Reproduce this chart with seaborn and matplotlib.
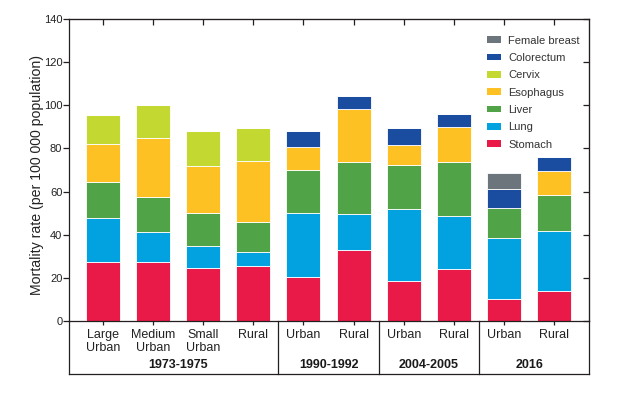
import matplotlib
matplotlib.use("Agg")

import matplotlib.pyplot as plt
import numpy as np
import seaborn as sns
from matplotlib.patches import Patch


OUT_PATH = "out.png"

bar_ids = [f"b{i}" for i in range(10)]
bar_labels = ["Large\nUrban", "Medium\nUrban", "Small\nUrban", "Rural",
              "Urban", "Rural", "Urban", "Rural", "Urban", "Rural"]
periods = ["1973-1975", "1990-1992", "2004-2005", "2016"]
period_sizes = [4, 2, 2, 2]

# mortality rate per 100 000, one value per bar (bottom to top of the stack)
stomach = [27.2, 27.2, 24.4, 25.3, 20.5, 32.7, 18.5, 24.0, 10.4, 14.0]
lung = [20.5, 14.2, 10.6, 6.6, 29.6, 16.9, 33.3, 24.5, 28.0, 27.9]
liver = [16.7, 16.0, 15.1, 14.1, 19.9, 24.3, 20.5, 25.1, 13.9, 16.4]
esophagus = [17.6, 27.4, 21.9, 28.0, 10.7, 24.4, 9.2, 16.5, 0, 11.1]
cervix = [13.5, 15.2, 16.2, 15.3, 0, 0, 0, 0, 0, 0]
colorectum = [0, 0, 0, 0, 7.2, 5.8, 8.1, 5.7, 9.0, 6.5]
female_breast = [0, 0, 0, 0, 0, 0, 0, 0, 7.1, 0]

cancers = ["Stomach", "Lung", "Liver", "Esophagus", "Cervix", "Colorectum", "Female breast"]
series = [stomach, lung, liver, esophagus, cervix, colorectum, female_breast]
colors = ["#E91A47", "#02A2E0", "#50A347", "#FEC124", "#C3D830", "#1A4C9F", "#6C757C"]

LINE_COLOR = "#231f20"


def draw_bars(ax):
    bottom = np.zeros(len(bar_ids))
    for name, vals, color in zip(cancers, series, colors):
        sns.barplot(x=bar_ids, y=vals, order=bar_ids, color=color, saturation=1,
                    width=0.678, bottom=bottom.copy(), edgecolor="white",
                    linewidth=0.6, errorbar=None, ax=ax)
        bottom += np.array(vals)


def draw_table(ax, xlim):
    trans = ax.get_xaxis_transform()
    y_bot = -0.175
    edges = [xlim[0]]
    pos = -0.5
    for n in period_sizes:
        pos += n
        edges.append(pos)
    edges[-1] = xlim[1]
    for x in edges:
        ax.plot([x, x], [0, y_bot], transform=trans, clip_on=False,
                color=LINE_COLOR, lw=0.9, solid_capstyle="projecting")
    ax.plot([xlim[0], xlim[1]], [y_bot, y_bot], transform=trans, clip_on=False,
            color=LINE_COLOR, lw=0.9, solid_capstyle="projecting")

    start = 0
    for name, n in zip(periods, period_sizes):
        center = start + (n - 1) / 2
        ax.text(center, -0.146, name, transform=trans, ha="center", va="center",
                fontsize=9, fontweight="bold", color="#1a1a1a")
        start += n


def main():
    sns.set_style("ticks")
    plt.rcParams["font.family"] = ["Liberation Sans", "DejaVu Sans"]

    fig = plt.figure(figsize=(6.4, 3.97), dpi=100)
    ax = fig.add_axes([0.1083, 0.1914, 0.8120, 0.7607])

    draw_bars(ax)

    xlim = (-0.666, 9.69)
    ax.set_xlim(*xlim)
    ax.set_ylim(0, 140)
    ax.set_yticks(range(0, 141, 20))
    ax.set_xticks(range(len(bar_labels)))
    ax.set_xticklabels(bar_labels, linespacing=1.1)
    ax.set_xlabel("")
    ax.set_ylabel("Mortality rate (per 100 000 population)", fontsize=10.2, color="#222222")
    ax.yaxis.set_label_coords(-0.049, 0.483)

    for side in ["left", "right", "top", "bottom"]:
        ax.spines[side].set_visible(True)
        ax.spines[side].set_color(LINE_COLOR)
        ax.spines[side].set_linewidth(0.9)

    ax.tick_params(axis="y", direction="out", length=4, width=0.9, pad=1,
                   labelsize=8, color=LINE_COLOR, labelcolor="#222222")
    ax.tick_params(axis="x", direction="out", length=3, width=0.9, pad=2.5,
                   labelsize=9, color=LINE_COLOR, labelcolor="#222222")

    top = ax.secondary_xaxis("top")
    top.set_xticks(range(len(bar_labels)))
    top.tick_params(direction="in", length=4, width=0.9, labeltop=False, color=LINE_COLOR)
    right = ax.secondary_yaxis("right")
    right.set_yticks(range(0, 141, 20))
    right.tick_params(direction="in", length=4, width=0.9, labelright=False, color=LINE_COLOR)

    draw_table(ax, xlim)
    ax.set_xlim(*xlim)

    handles = [Patch(facecolor=c, edgecolor="none") for c in colors][::-1]
    leg = ax.legend(handles, cancers[::-1], loc="upper left", bbox_to_anchor=(0.803, 0.945),
                    frameon=False, fontsize=8, handlelength=1.26, handleheight=0.55,
                    handletextpad=0.7, labelspacing=0.66, borderpad=0, borderaxespad=0)
    for txt in leg.get_texts():
        txt.set_color("#333333")

    fig.savefig(OUT_PATH, dpi=100)
    plt.close(fig)


if __name__ == "__main__":
    main()
